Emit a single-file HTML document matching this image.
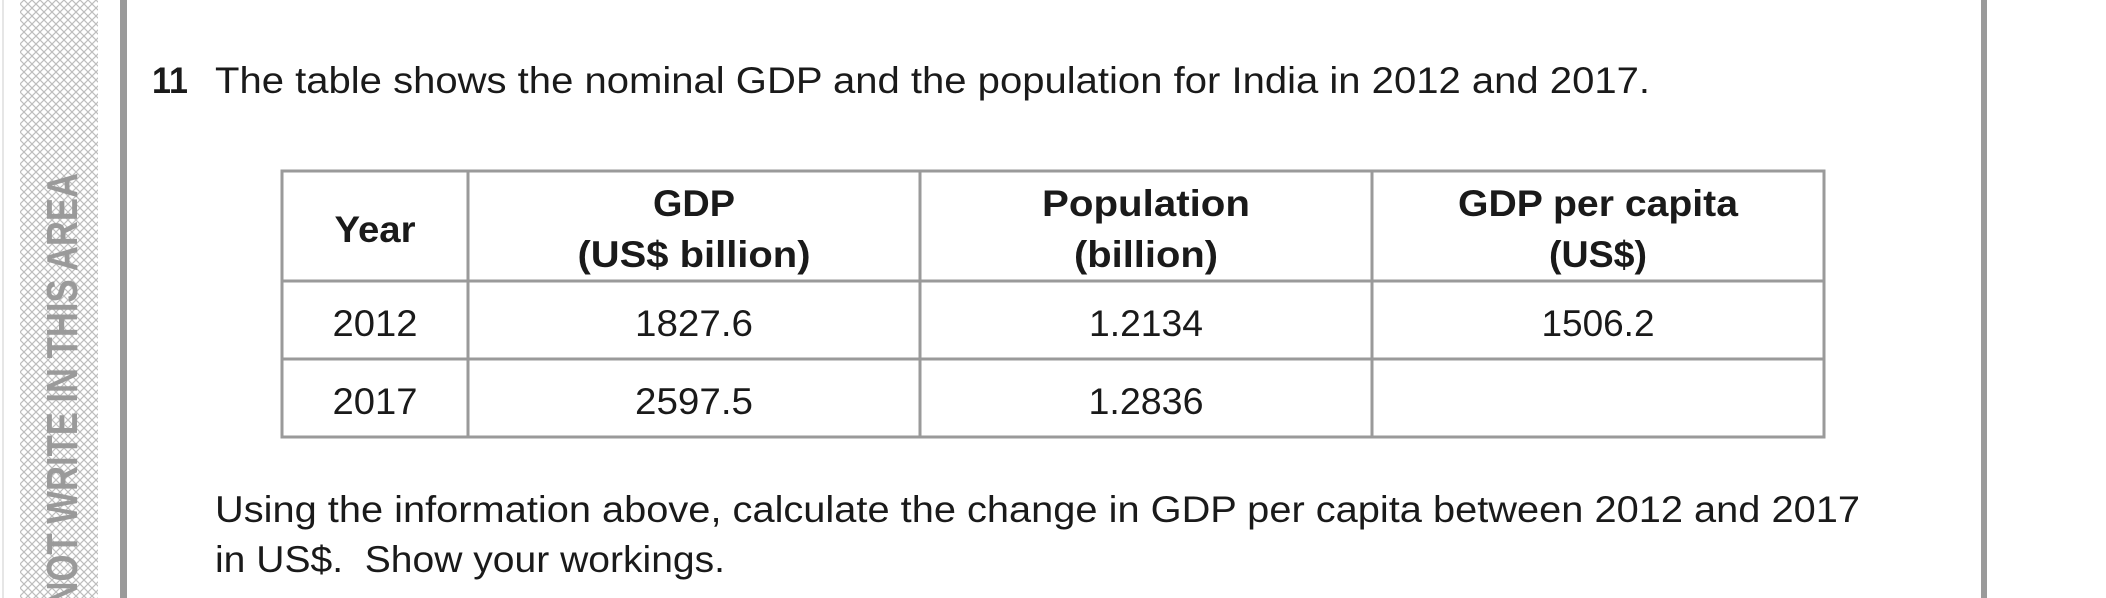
<!DOCTYPE html>
<html><head><meta charset="utf-8"><style>
html,body{margin:0;padding:0;background:#fff;width:2106px;height:598px;overflow:hidden;}
svg{display:block;}
text{font-family:"Liberation Sans",sans-serif;fill:#1a1a1a;}
</style></head><body>
<svg width="2106" height="598" viewBox="0 0 2106 598" xmlns="http://www.w3.org/2000/svg">
<defs>
<pattern id="h" width="8" height="8" patternUnits="userSpaceOnUse">
<path d="M0,0 L8,8 M8,0 L0,8" stroke="#bdbdbd" stroke-width="1.2" fill="none"/>
</pattern>
<clipPath id="c"><rect x="0" y="0" width="120" height="598"/></clipPath>
</defs>
<rect x="0" y="0" width="2106" height="598" fill="#fff"/>
<line x1="3" y1="0" x2="3" y2="598" stroke="#e6e6e6" stroke-width="2"/>
<rect x="20" y="0" width="78" height="598" fill="url(#h)"/>
<g clip-path="url(#c)">
<text transform="translate(77,598) rotate(-90)" x="-70" y="0" textLength="495" lengthAdjust="spacingAndGlyphs" style="font-size:44px;font-weight:bold;fill:#9a9a9a;">DO NOT WRITE IN THIS AREA</text>
</g>
<rect x="120" y="0" width="7" height="598" fill="#9a9a9a"/>
<rect x="1981" y="0" width="6" height="598" fill="#9a9a9a"/>

<text x="152" y="93" textLength="36" lengthAdjust="spacingAndGlyphs" style="font-size:37px;font-weight:bold;">11</text>
<text x="215" y="93" textLength="1435" lengthAdjust="spacingAndGlyphs" style="font-size:37px;">The table shows the nominal GDP and the population for India in 2012 and 2017.</text>

<g fill="none" stroke="#9a9a9a" stroke-width="3">
<rect x="282" y="171" width="1542" height="266"/>
<line x1="282" y1="281" x2="1824" y2="281"/>
<line x1="282" y1="359" x2="1824" y2="359"/>
<line x1="468" y1="171" x2="468" y2="437"/>
<line x1="920" y1="171" x2="920" y2="437"/>
<line x1="1372" y1="171" x2="1372" y2="437"/>
</g>

<g style="font-size:37px;font-weight:bold;" text-anchor="middle">
<text x="375" y="242" textLength="81" lengthAdjust="spacingAndGlyphs">Year</text>
<text x="694" y="216" textLength="82" lengthAdjust="spacingAndGlyphs">GDP</text>
<text x="694" y="267" textLength="233" lengthAdjust="spacingAndGlyphs">(US$ billion)</text>
<text x="1146" y="216" textLength="208" lengthAdjust="spacingAndGlyphs">Population</text>
<text x="1146" y="267" textLength="144" lengthAdjust="spacingAndGlyphs">(billion)</text>
<text x="1598" y="216" textLength="280" lengthAdjust="spacingAndGlyphs">GDP per capita</text>
<text x="1598" y="267" textLength="98" lengthAdjust="spacingAndGlyphs">(US$)</text>
</g>
<g style="font-size:37px;" text-anchor="middle">
<text x="375" y="336" textLength="85" lengthAdjust="spacingAndGlyphs">2012</text>
<text x="694" y="336" textLength="118" lengthAdjust="spacingAndGlyphs">1827.6</text>
<text x="1146" y="336" textLength="114" lengthAdjust="spacingAndGlyphs">1.2134</text>
<text x="1598" y="336" textLength="113" lengthAdjust="spacingAndGlyphs">1506.2</text>
<text x="375" y="414" textLength="85" lengthAdjust="spacingAndGlyphs">2017</text>
<text x="694" y="414" textLength="118" lengthAdjust="spacingAndGlyphs">2597.5</text>
<text x="1146" y="414" textLength="115" lengthAdjust="spacingAndGlyphs">1.2836</text>
</g>

<text x="215" y="522" textLength="1645" lengthAdjust="spacingAndGlyphs" style="font-size:37px;">Using the information above, calculate the change in GDP per capita between 2012 and 2017</text>
<text x="215" y="572" textLength="510" lengthAdjust="spacingAndGlyphs" style="font-size:37px;" xml:space="preserve">in US$.  Show your workings.</text>
</svg>
</body></html>
